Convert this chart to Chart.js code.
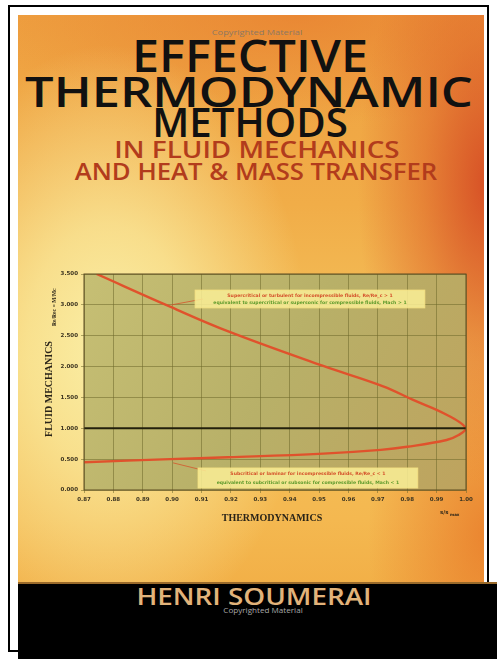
<!DOCTYPE html>
<html>
<head>
<meta charset="utf-8">
<script src="https://cdn.jsdelivr.net/npm/chart.js@4.4.1/dist/chart.umd.min.js"></script>
<style>
  html, body { margin: 0; padding: 0; background: #fff; }
  body { width: 497px; height: 659px; position: relative; overflow: hidden; font-family: 'Open Sans', sans-serif; }
  .frame { position: absolute; left: 8px; top: 5px; width: 481px; height: 647px; border: 2px solid #000; box-sizing: border-box; }
  .cover {
    position: absolute; left: 18px; top: 15px; width: 466px; height: 631px; overflow: hidden;
    background:
      radial-gradient(ellipse 200px 300px at 90px 330px, rgba(250,238,165,1) 0%, rgba(250,236,160,0.75) 40%, rgba(248,230,150,0) 100%),
      radial-gradient(ellipse 130px 300px at 470px 170px, rgba(212,70,34,0.9) 0%, rgba(222,98,40,0.55) 50%, rgba(230,120,50,0) 100%),
      radial-gradient(ellipse 320px 110px at 280px 0px, rgba(232,128,48,0.75), rgba(232,128,48,0)),
      radial-gradient(ellipse 120px 200px at 470px 520px, rgba(232,120,40,0.8), rgba(232,120,40,0)),
      linear-gradient(180deg, #eea040 0%, #f1ad48 30%, #f4c25c 55%, #f4b850 80%, #f0a83f 100%);
  }
  .band { position: absolute; left: 18px; top: 582px; right: 0; bottom: 0; background: #000;
          border-top: 2px solid #9a6a2a; box-sizing: border-box; }
  .t { position: absolute; white-space: nowrap; line-height: 1; transform-origin: 50% 50%; font-weight: 600; }
  canvas { position: absolute; left: 30px; top: 255px; }
</style>
</head>
<body>
<div class="frame"></div>
<div class="cover"></div>
<div class="band"></div>

<div class="t fit" data-w="91" style="left:257px; top:29px; font-size:7px; font-weight:400; color:#8d7862;">Copyrighted Material</div>
<div class="t fit" data-w="236" style="left:250px; top:31px; font-size:46px; color:#111;">EFFECTIVE</div>
<div class="t fit" data-w="448" style="left:249px; top:71px; font-size:41px; color:#111;">THERMODYNAMIC</div>
<div class="t fit" data-w="196" style="left:250px; top:102px; font-size:40px; color:#111;">METHODS</div>
<div class="t fit" data-w="285" style="left:257px; top:138px; font-size:23.5px; color:#b23c1c;">IN FLUID MECHANICS</div>
<div class="t fit" data-w="362" style="left:256px; top:160px; font-size:23.5px; color:#b23c1c;">AND HEAT &amp; MASS TRANSFER</div>
<div class="t fit" data-w="235" style="left:254px; top:584px; font-size:24px; color:#e2b37a;">HENRI SOUMERAI</div>
<div class="t fit" data-w="80" style="left:263px; top:607px; font-size:7px; font-weight:400; color:#a8a8a8;">Copyrighted Material</div>

<canvas id="fluidChart" width="450" height="275"></canvas>

<script>
// x axis: thermodynamics ratio, y axis: Re/Re_c = M/M_c
const xTickValues = [0.87, 0.88, 0.89, 0.90, 0.91, 0.92, 0.93, 0.94, 0.95, 0.96, 0.97, 0.98, 0.99, 1.00];
const yTickValues = [0.0, 0.5, 1.0, 1.5, 2.0, 2.5, 3.0, 3.5];

// upper branch (supercritical), read left to right
const upperX = [0.8743, 0.8993, 0.9191, 0.9514, 0.9718, 0.9820, 0.9934, 1.0000];
const upperY = [3.50, 2.97, 2.57, 2.01, 1.68, 1.46, 1.22, 1.00];
// lower branch (subcritical), read left to right
const lowerX = [0.8700, 0.8993, 0.9190, 0.9514, 0.9710, 0.9800, 0.9934, 0.9975, 1.0000];
const lowerY = [0.45, 0.50, 0.53, 0.59, 0.65, 0.70, 0.81, 0.89, 1.00];
// critical line
const criticalX = [0.87, 1.00];
const criticalY = [1.0, 1.0];

const notes = [
    { x0: 0.9078, x1: 0.9860, y0: 3.24, y1: 2.95, ax: 0.8998, ay: 3.00,
      lines: ['Supercritical or turbulent for incompressible fluids, Re/Re_c > 1',
              'equivalent to supercritical or supersonic for compressible fluids, Mach > 1'] },
    { x0: 0.9088, x1: 0.9836, y0: 0.357, y1: 0.032, ax: 0.9003, ay: 0.44,
      lines: ['Subcritical or laminar for incompressible fluids, Re/Re_c < 1',
              'equivalent to subcritical or subsonic for compressible fluids, Mach < 1'] }
];

document.querySelectorAll('.fit').forEach(el => {
    const k = el.dataset.w / el.offsetWidth;
    el.style.transform = 'translateX(-50%) scaleX(' + k.toFixed(3) + ')';
});

const curve = upperX.map((x, i) => ({ x: x, y: upperY[i] }));
for (let i = lowerX.length - 2; i >= 0; i--) {
    curve.push({ x: lowerX[i], y: lowerY[i] });
}

const coverPlugin = {
    id: 'coverPlugin',
    beforeDraw(chart) {
        const { ctx, chartArea: a } = chart;
        const g = ctx.createLinearGradient(a.left, a.top, a.right, a.bottom);
        g.addColorStop(0, '#c6bf74');
        g.addColorStop(0.5, '#b8b068');
        g.addColorStop(1, '#bea35e');
        ctx.save();
        ctx.fillStyle = g;
        ctx.fillRect(a.left, a.top, a.right - a.left, a.bottom - a.top);
        ctx.restore();
    },
    afterDraw(chart) {
        const { ctx, chartArea: a, scales } = chart;
        const sx = scales.x, sy = scales.y;
        ctx.save();
        ctx.strokeStyle = '#5c4c22';
        ctx.lineWidth = 1;
        ctx.strokeRect(a.left, a.top, a.right - a.left, a.bottom - a.top);

        notes.forEach((n, idx) => {
            const l = sx.getPixelForValue(n.x0), r = sx.getPixelForValue(n.x1);
            const t = sy.getPixelForValue(n.y0), b = sy.getPixelForValue(n.y1);
            const px = sx.getPixelForValue(n.ax), py = sy.getPixelForValue(n.ay);
            const sy0 = idx === 0 ? (t + b) / 2 : t + 3;
            ctx.strokeStyle = '#d4552c';
            ctx.lineWidth = 0.8;
            ctx.beginPath();
            ctx.moveTo(l + 8, sy0);
            ctx.lineTo(px, py);
            ctx.stroke();
            ctx.fillStyle = 'rgba(250,238,150,0.85)';
            ctx.fillRect(l, t, r - l, b - t);
            ctx.strokeStyle = 'rgba(245,225,130,1)';
            ctx.strokeRect(l, t, r - l, b - t);
            ctx.textAlign = 'center';
            ctx.textBaseline = 'middle';
            ctx.font = 'bold 4.6px "DejaVu Sans"';
            ctx.fillStyle = '#d4502a';
            ctx.fillText(n.lines[0], (l + r) / 2, t + (b - t) * 0.3);
            ctx.fillStyle = '#5e9a2c';
            ctx.fillText(n.lines[1], (l + r) / 2, t + (b - t) * 0.72);
        });

        // y axis title
        ctx.fillStyle = '#2a2418';
        ctx.save();
        ctx.translate(19, 134);
        ctx.rotate(-Math.PI / 2);
        ctx.textAlign = 'center';
        ctx.textBaseline = 'middle';
        ctx.font = 'bold 10px "Liberation Serif"';
        ctx.fillText('FLUID MECHANICS', 0, 0);
        ctx.restore();
        ctx.save();
        ctx.translate(25, 52);
        ctx.rotate(-Math.PI / 2);
        ctx.textAlign = 'center';
        ctx.textBaseline = 'middle';
        ctx.font = 'bold 5.5px "Liberation Serif"';
        ctx.fillText('Re/Re\u1D04 = M/M\u1D04', 0, 0);
        ctx.restore();

        // x axis title
        ctx.textAlign = 'center';
        ctx.textBaseline = 'middle';
        ctx.font = 'bold 10px "Liberation Serif"';
        ctx.fillText('THERMODYNAMICS', 242, 263);
        ctx.font = 'bold 5.5px "DejaVu Sans"';
        ctx.textAlign = 'left';
        ctx.fillText('s/s', 410, 258);
        ctx.font = 'bold 4px "DejaVu Sans"';
        ctx.fillText('max', 420, 260);
        ctx.restore();
    }
};

Chart.defaults.font.family = '"DejaVu Sans", sans-serif';

const ctx = document.getElementById('fluidChart').getContext('2d');
const fluidChart = new Chart(ctx, {
    type: 'scatter',
    data: {
        datasets: [
            {
                label: 'Critical',
                data: criticalX.map((x, i) => ({ x: x, y: criticalY[i] })),
                showLine: true,
                borderColor: '#23200c',
                borderWidth: 2,
                pointRadius: 0
            },
            {
                label: 'Fluid state',
                data: curve,
                showLine: true,
                borderColor: '#e0522c',
                borderWidth: 2.4,
                pointRadius: 0,
                tension: 0.4
            }
        ]
    },
    options: {
        responsive: false,
        animation: false,
        layout: { padding: { top: 19, right: 14, left: 0, bottom: 0 } },
        plugins: { legend: { display: false }, tooltip: { enabled: false } },
        scales: {
            x: {
                type: 'linear',
                min: 0.87,
                max: 1.00,
                afterBuildTicks: s => { s.ticks = xTickValues.map(v => ({ value: v })); },
                afterFit: s => { s.height = 40; },
                ticks: {
                    autoSkip: false, maxRotation: 0, padding: 3,
                    color: '#3c3420',
                    font: { size: 5.5, weight: 'bold' },
                    callback: v => v.toFixed(2)
                },
                grid: { color: 'rgba(112,106,44,0.55)', tickLength: 3 },
                border: { display: false }
            },
            y: {
                min: 0,
                max: 3.5,
                afterBuildTicks: s => { s.ticks = yTickValues.map(v => ({ value: v })); },
                afterFit: s => { s.width = 54; },
                ticks: {
                    autoSkip: false, padding: 3,
                    color: '#3c3420',
                    font: { size: 5.5, weight: 'bold' },
                    callback: v => v.toFixed(3)
                },
                grid: { color: 'rgba(112,106,44,0.55)', tickLength: 3 },
                border: { display: false }
            }
        }
    },
    plugins: [coverPlugin]
});
</script>
</body>
</html>
